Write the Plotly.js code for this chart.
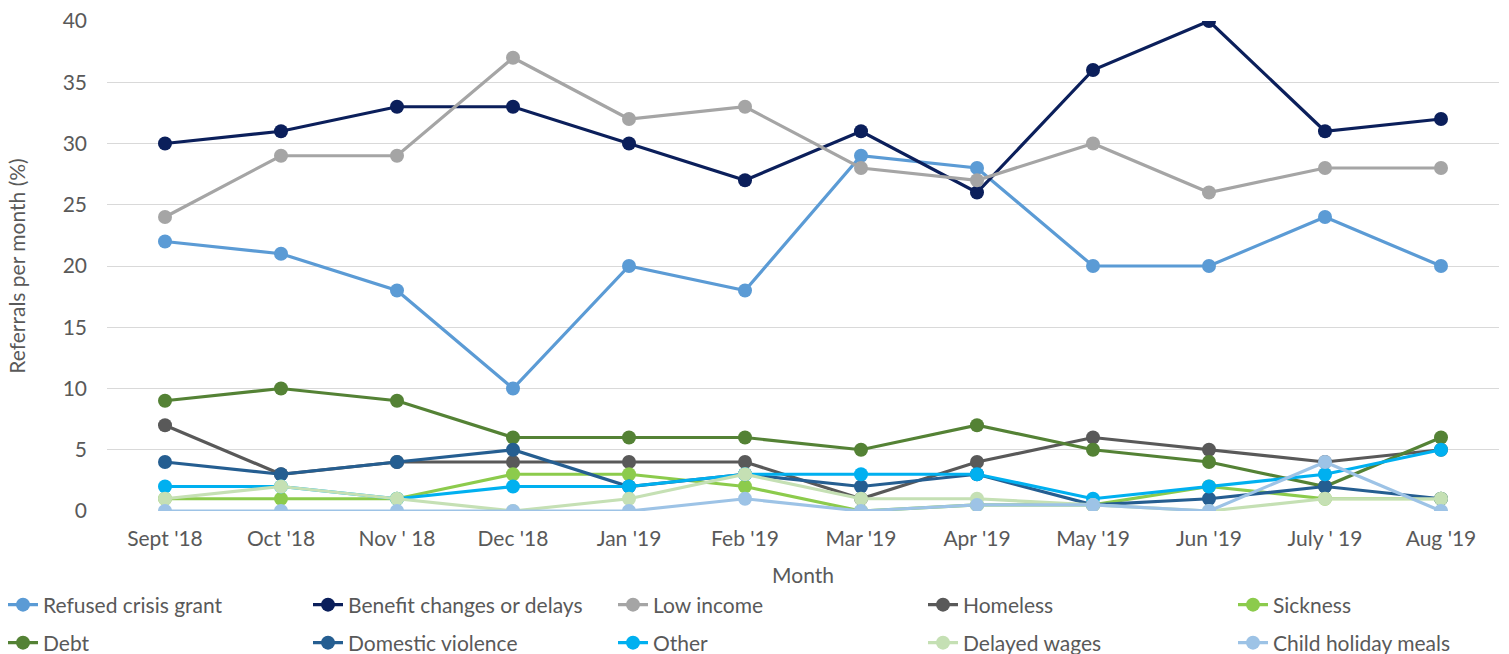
<!DOCTYPE html>
<html>
<head>
<meta charset="utf-8">
<script src="https://cdn.plot.ly/plotly-3.0.1.min.js"></script>
<style>
  html, body { margin: 0; padding: 0; background: #ffffff; }
  #chart { width: 1509px; height: 654px; }
</style>
</head>
<body>
<div id="chart"></div>
<script>
// ---- Data ----
const months = ["Sept '18", "Oct '18", "Nov ' 18", "Dec '18", "Jan '19", "Feb '19",
                "Mar '19", "Apr '19", "May '19", "Jun '19", "July ' 19", "Aug '19"];

const seriesNames = ["Refused crisis grant", "Benefit changes or delays", "Low income",
                     "Homeless", "Sickness", "Debt", "Domestic violence", "Other",
                     "Delayed wages", "Child holiday meals"];

const refusedCrisisGrant = [22, 21, 18, 10, 20, 18, 29, 28, 20, 20, 24, 20];
const benefitChanges     = [30, 31, 33, 33, 30, 27, 31, 26, 36, 40, 31, 32];
const lowIncome          = [24, 29, 29, 37, 32, 33, 28, 27, 30, 26, 28, 28];
const homeless           = [7, 3, 4, 4, 4, 4, 1, 4, 6, 5, 4, 5];
const sickness           = [1, 1, 1, 3, 3, 2, 0, 0.5, 0.5, 2, 1, 1];
const debt               = [9, 10, 9, 6, 6, 6, 5, 7, 5, 4, 2, 6];
const domesticViolence   = [4, 3, 4, 5, 2, 3, 2, 3, 0.5, 1, 2, 1];
const other              = [2, 2, 1, 2, 2, 3, 3, 3, 1, 2, 3, 5];
const delayedWages       = [1, 2, 1, 0, 1, 3, 1, 1, 0.5, 0, 1, 1];
const childHolidayMeals  = [0, 0, 0, 0, 0, 1, 0, 0.5, 0.5, 0, 4, 0];

const yTickValues = [0, 5, 10, 15, 20, 25, 30, 35, 40];

// ---- Styling ----
const allValues = [refusedCrisisGrant, benefitChanges, lowIncome, homeless, sickness,
                   debt, domesticViolence, other, delayedWages, childHolidayMeals];
const colors = ["#5B9BD5", "#0B1F5B", "#A5A5A5", "#595959", "#8CCB4C",
                "#548235", "#255E91", "#00B0F0", "#C5E0B4", "#9DC3E6"];

const FONT = "Lato, 'Open Sans', sans-serif";
const TXT = "#595959";

// legend placement (pixel columns / rows, converted to paper coords)
const plotL = 107, plotR = 1499, plotT = 21, plotB = 511;
const legendColsPx = [3, 308, 613, 923, 1233];
const legendRowsPx = [605, 643];

const traces = [];
const layoutLegends = {};
allValues.forEach((vals, i) => {
  const key = i === 0 ? "legend" : "legend" + (i + 1);
  traces.push({
    type: "scatter",
    mode: "lines+markers",
    name: seriesNames[i],
    x: months,
    y: vals,
    line: { color: colors[i], width: 3.2 },
    marker: { color: colors[i], size: 14 },
    legend: key,
    hoverinfo: "x+y+name"
  });
  const col = i % 5, row = Math.floor(i / 5);
  layoutLegends[key] = {
    x: (legendColsPx[col] - plotL) / (plotR - plotL),
    y: (plotB - legendRowsPx[row]) / (plotB - plotT),
    xanchor: "left",
    yanchor: "middle",
    orientation: "h",
    bgcolor: "rgba(0,0,0,0)",
    borderwidth: 0,
    font: { family: FONT, size: 21, color: TXT }
  };
});

const layout = Object.assign({
  width: 1509,
  height: 654,
  paper_bgcolor: "#ffffff",
  plot_bgcolor: "#ffffff",
  margin: { l: plotL, r: 1509 - plotR, t: plotT, b: 654 - plotB, autoexpand: false },
  font: { family: FONT, color: TXT, size: 21 },
  showlegend: true,
  xaxis: {
    type: "category",
    range: [-0.5, 11.5],
    showgrid: false,
    zeroline: false,
    showline: false,
    ticks: "",
    ticklabelstandoff: 13,
    tickfont: { family: FONT, size: 21, color: TXT },
    title: { text: "Month", font: { family: FONT, size: 21, color: TXT }, standoff: 19 }
  },
  yaxis: {
    range: [0, 40],
    tickvals: yTickValues,
    showgrid: true,
    gridcolor: "#D9D9D9",
    gridwidth: 1.2,
    zeroline: false,
    showline: false,
    ticks: "",
    ticklabelstandoff: 19,
    tickfont: { family: FONT, size: 21, color: TXT },
    title: { text: "Referrals per month (%)", font: { family: FONT, size: 21, color: TXT }, standoff: 31 }
  }
}, layoutLegends);

Plotly.newPlot("chart", traces, layout, { displayModeBar: false, staticPlot: false });
</script>
</body>
</html>
